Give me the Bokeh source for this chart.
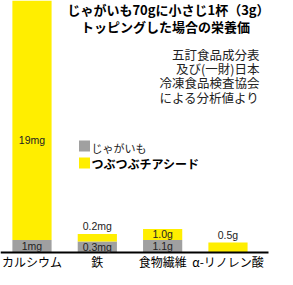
from bokeh.plotting import figure
from bokeh.models import Range1d, Label, ColumnDataSource
from bokeh.embed import file_html
from bokeh.resources import INLINE
from bokeh.core.properties import value

# ---- data (bar heights are the illustrative heights) ----
categories = ["カルシウム", "鉄", "食物繊維", "α-リノレン酸"]
potato_height = [12.6, 11.0, 12.6, 0.0]
chia_height = [260.0, 7.5, 11.0, 10.0]
potato_labels = ["1mg", "0.3mg", "1.1g", ""]
chia_labels = ["19mg", "0.2mg", "1.0g", "0.5g"]

title_lines = ["じゃがいも70gに小さじ1杯（3g）", "トッピングした場合の栄養価"]
source_lines = ["五訂食品成分表", "及び(一財)日本", "冷凍食品検査協会", "による分析値より"]
legend_names = ["じゃがいも", "つぶつぶチアシード"]

GRAY = "#A0A0A0"
YELLOW = "#FFEE00"
JP = "Noto Sans CJK JP"
NUM = "Liberation Sans"

W, H = 277, 269
BASE = 17  # pixels below the baseline inside the canvas

xs = list(range(len(categories)))
chia_top = [a + b for a, b in zip(potato_height, chia_height)]

p = figure(width=W, height=H, output_backend="svg", toolbar_location=None,
           x_range=Range1d(-0.482, 3.758), y_range=Range1d(-BASE, H - BASE),
           x_axis_location=None, y_axis_location=None,
           min_border=0, min_border_left=0, min_border_right=0,
           min_border_top=0, min_border_bottom=0)
p.extra_x_ranges = {"px": Range1d(8, 8 + W)}
p.extra_y_ranges = {"py": Range1d(8 + H, 8)}
p.xgrid.visible = False
p.ygrid.visible = False
p.outline_line_color = None
p.background_fill_color = "white"
p.border_fill_color = "white"

src = ColumnDataSource(dict(x=xs, potato=potato_height, top=chia_top))
p.vbar(x="x", width=0.6, bottom=0, top="potato", source=src,
       fill_color=GRAY, line_color=None)
p.vbar(x="x", width=0.6, bottom="potato", top="top", source=src,
       fill_color=YELLOW, line_color=None)

# baseline (axis line)
p.segment(x0=[8], x1=[276], y0=[0], y1=[0], line_color="black", line_width=2,
          x_range_name="px")

# category labels under the baseline
p.text(x=xs, y=[-8.5] * len(xs), text=categories, text_align="center",
       text_baseline="middle", text_font=value(JP), text_font_size="12px",
       text_color="black")

# value labels
pot_x, pot_y, pot_t = [], [], []
for i, (h, t) in enumerate(zip(potato_height, potato_labels)):
    if t:
        pot_x.append(i); pot_y.append(h / 2); pot_t.append(t)
p.text(x=pot_x, y=pot_y, text=pot_t, text_align="center", text_baseline="middle",
       text_font=value(NUM), text_font_size="10.5px", text_color="#222222")

in_x, in_y, in_t, ab_x, ab_y, ab_t = [], [], [], [], [], []
for i, (b, h, t) in enumerate(zip(potato_height, chia_height, chia_labels)):
    if h >= 11:
        in_x.append(i); in_y.append(b + min(h, 200) / 2); in_t.append(t)
    else:
        ab_x.append(i); ab_y.append(b + h + 8); ab_t.append(t)
p.text(x=in_x, y=in_y, text=in_t, text_align="center", text_baseline="middle",
       text_font=value(NUM), text_font_size="10.5px", text_color="#222222")
p.text(x=ab_x, y=ab_y, text=ab_t, text_align="center", text_baseline="middle",
       text_font=value(NUM), text_font_size="10.5px", text_color="#222222")

# title
for txt, (x, y) in zip(title_lines, [(176, 17), (173, 34)]):
    p.add_layout(Label(x=x, y=y, x_range_name="px", y_range_name="py", text=txt,
                       text_align="center", text_baseline="middle", text_font=JP,
                       text_font_style="bold", text_font_size="13px", text_color="black"))

# source note
for k, txt in enumerate(source_lines):
    p.add_layout(Label(x=267, y=62 + 14.2 * k, x_range_name="px", y_range_name="py", text=txt,
                       text_align="right", text_baseline="middle", text_font=JP,
                       text_font_size="12.5px", text_color="#222222"))

# legend
p.scatter(x=[92, 92], y=[153.5, 170.5], marker="square", size=11,
          fill_color=[GRAY, YELLOW], line_color=None,
          x_range_name="px", y_range_name="py")
p.add_layout(Label(x=99, y=155, x_range_name="px", y_range_name="py", text=legend_names[0],
                   text_align="left", text_baseline="middle", text_font=JP,
                   text_font_size="11px", text_color="#222222"))
p.add_layout(Label(x=99, y=171, x_range_name="px", y_range_name="py", text=legend_names[1],
                   text_align="left", text_baseline="middle", text_font=JP,
                   text_font_style="bold", text_font_size="12px", text_color="black"))

open("out.html", "w").write(file_html(p, INLINE))
